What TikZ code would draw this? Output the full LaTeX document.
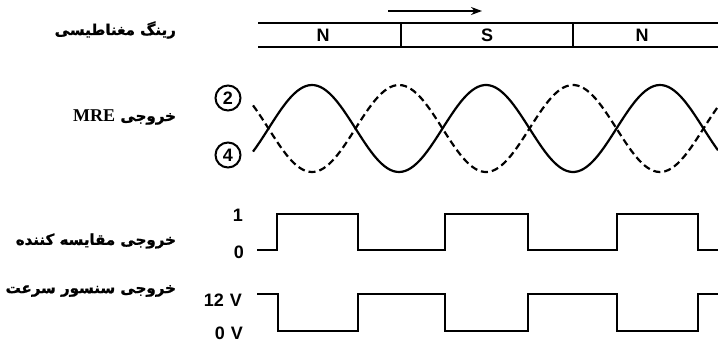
\documentclass[tikz,border=0pt]{standalone}
\usepackage{fontspec}
\setmainfont{Liberation Sans}
\newfontfamily\arabicfont[Script=Arabic, BoldFeatures={FakeBold=1.2}]{DejaVu Sans}
\newfontfamily\timesfont{Liberation Serif}
\TeXXeTstate=1
\usetikzlibrary{arrows.meta}

\begin{document}
\begin{tikzpicture}[x=1pt, y=-1pt, line width=2.2pt,
    sigtitle/.style={anchor=east, inner sep=0pt, font=\arabicfont\bfseries\fontsize{15}{18}\selectfont},
    levelmark/.style={inner sep=0pt, font=\bfseries\fontsize{18}{20}\selectfont}]
    \useasboundingbox (0,0) rectangle (718,343);

    % titles on the left
    \node[sigtitle] (ringtitle) at (177,30) {\beginR رینگ مغناطیسی\endR};
    \node[sigtitle] (mretitle) at (177,117) {\beginR خروجی {\timesfont\bfseries\fontsize{18}{20}\selectfont\beginL MRE\endL}\endR};
    \node[sigtitle] (comptitle) at (177,241) {\beginR خروجی مقایسه کننده\endR};
    \node[sigtitle] (speedtitle) at (177,291) {\beginR خروجی سنسور سرعت\endR};

    % magnetic ring
    \draw[line width=1.8pt] (258,23) -- (718,23);
    \draw[line width=1.8pt] (258,47) -- (718,47);
    \draw[line width=1.8pt] (401,23) -- (401,47);
    \draw[line width=1.8pt] (573,23) -- (573,47);
    \node[levelmark] (pole1) at (323,35) {N};
    \node[levelmark] (pole2) at (487,35) {S};
    \node[levelmark] (pole3) at (642,35) {N};
    \coordinate (move0) at (388,11);
    \coordinate (move1) at (482,11);
    \draw[line width=1.8pt, -{Stealth[length=11pt,width=8pt]}] (move0) -- (move1);

    % MRE output
    \node[draw, circle, line width=2pt, minimum size=25pt, inner sep=0pt, levelmark] (pin2) at (228,98) {2};
    \node[draw, circle, line width=2pt, minimum size=25pt, inner sep=0pt, levelmark] (pin4) at (228,155) {4};
    \draw plot[domain=253:718, samples=160, smooth] (\x, {128.5-43.5*cos(2.069*(\x-312))});
    \draw[dash pattern=on 7pt off 4pt] plot[domain=253:718, samples=160, smooth] (\x, {128.5+43.5*cos(2.069*(\x-312))});

    % comparator output
    \node[levelmark] (comphigh) at (238,215) {1};
    \node[levelmark] (complow) at (239,252) {0};
    \draw (257,250) -- (277,250) -- (277,214) -- (358,214) -- (358,250) -- (445,250) -- (445,214)
        -- (528,214) -- (528,250) -- (617,250) -- (617,214) -- (698,214) -- (698,250) -- (718,250);

    % speed sensor output
    \node[levelmark] (speedhigh) at (223,300) {12\hspace{6pt}V};
    \node[levelmark] (speedlow) at (229,333) {0\hspace{6pt}V};
    \draw (257,294) -- (278,294) -- (278,331) -- (358,331) -- (358,294) -- (445,294) -- (445,331)
        -- (528,331) -- (528,294) -- (617,294) -- (617,331) -- (698,331) -- (698,294) -- (718,294);
\end{tikzpicture}
\end{document}
